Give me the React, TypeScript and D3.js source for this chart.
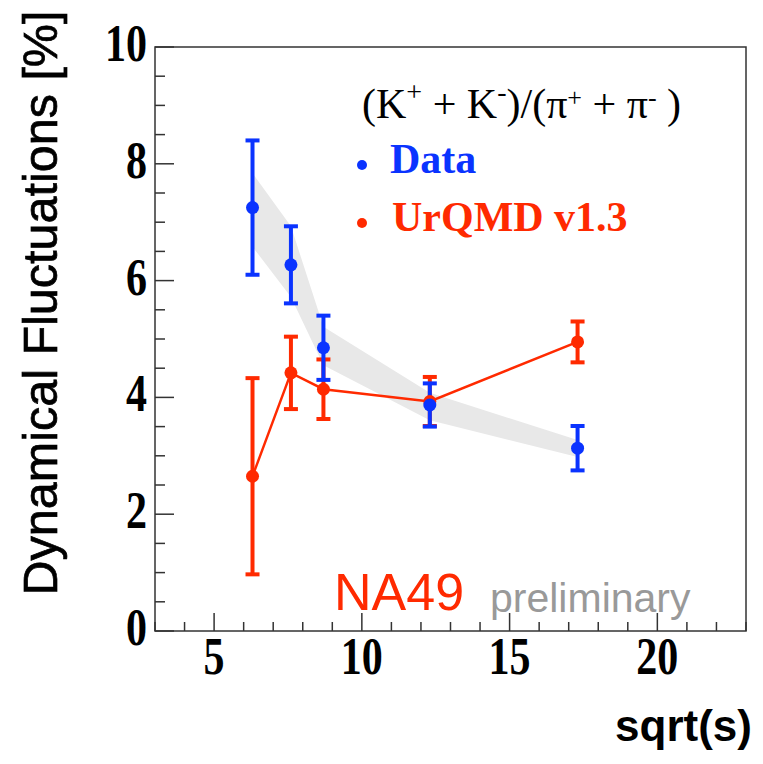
import { scaleLinear, line as d3line, area as d3area, range } from "d3";

// sqrt(s) energies
const energies = [6.3, 7.6, 8.7, 12.3, 17.3];

// NA49 data (blue)
const dataValues = [7.25, 6.27, 4.85, 3.87, 3.13];
const dataErrors = [1.15, 0.66, 0.55, 0.37, 0.38];

// UrQMD v1.3 (red)
const urqmdValues = [2.65, 4.42, 4.14, 3.93, 4.95];
const urqmdErrors = [1.68, 0.62, 0.51, 0.42, 0.35];

// grey systematic band around data
const bandUpper = [7.84, 6.93, 5.21, 4.08, 3.27];
const bandLower = [6.58, 5.72, 4.55, 3.61, 2.98];

const yTickLabels = [0, 2, 4, 6, 8, 10];
const xTickLabels = [5, 10, 15, 20];

const W = 763;
const H = 764;
const left = 155;
const right = 746;
const top = 47;
const bottom = 631;

const BLUE = "#0a33ff";
const RED = "#ff2a00";

export default function App() {
  const x = scaleLinear().domain([3, 23]).range([left, right]);
  const y = scaleLinear().domain([0, 10]).range([bottom, top]);

  const band = d3area<number>()
    .x((_, i) => x(energies[i]))
    .y0((_, i) => y(bandLower[i]))
    .y1((_, i) => y(bandUpper[i]));

  const redLine = d3line<number>()
    .x((_, i) => x(energies[i]))
    .y((v) => y(v));

  const yMinor = range(0, 10.01, 0.5);
  const xMinor = range(3, 23.01, 1);

  const serif = "'Liberation Serif', 'DejaVu Serif', serif";
  const sans = "'Liberation Sans', Arial, sans-serif";

  const errBars = (vals: number[], errs: number[], color: string) =>
    vals.map((v, i) => {
      const cx = x(energies[i]);
      const y1 = y(v + errs[i]);
      const y2 = y(v - errs[i]);
      return (
        <g key={i} stroke={color} strokeWidth={4}>
          <line x1={cx} x2={cx} y1={y1} y2={y2} />
          <line x1={cx - 7} x2={cx + 7} y1={y1} y2={y1} />
          <line x1={cx - 7} x2={cx + 7} y1={y2} y2={y2} />
        </g>
      );
    });

  return (
    <svg
      width={W}
      height={H}
      style={{ position: "absolute", left: 0, top: 0, background: "#fff" }}
    >
      {/* band */}
      <path d={band(bandUpper) ?? undefined} fill="#e8e8e8" />

      {/* minor / major ticks */}
      {yMinor.map((t) => {
        const major = Math.abs(t % 2) < 1e-6;
        return (
          <line
            key={"y" + t}
            x1={left}
            x2={left + (major ? 19 : 10)}
            y1={y(t)}
            y2={y(t)}
            stroke="#333"
            strokeWidth={1.5}
          />
        );
      })}
      {xMinor.map((t) => {
        const major = Math.abs(t % 5) < 1e-6;
        return (
          <line
            key={"x" + t}
            x1={x(t)}
            x2={x(t)}
            y1={bottom}
            y2={bottom - (major ? 18 : 9)}
            stroke="#333"
            strokeWidth={1.5}
          />
        );
      })}

      {/* frame */}
      <rect
        x={left}
        y={top}
        width={right - left}
        height={bottom - top}
        fill="none"
        stroke="#333"
        strokeWidth={1.5}
      />

      {/* tick labels */}
      {yTickLabels.map((t) => (
        <text
          key={"yl" + t}
          transform={`translate(147, ${y(t) + 14}) scale(1, 1.25)`}
          textAnchor="end"
          fontFamily={serif}
          fontWeight="bold"
          fontSize={42}
          fill="#000"
        >
          {t}
        </text>
      ))}
      {xTickLabels.map((t) => (
        <text
          key={"xl" + t}
          transform={`translate(${x(t)}, 674) scale(1, 1.25)`}
          textAnchor="middle"
          fontFamily={serif}
          fontWeight="bold"
          fontSize={42}
          fill="#000"
        >
          {t}
        </text>
      ))}

      {/* axis titles */}
      <text
        transform="translate(57, 303) rotate(-90)"
        textAnchor="middle"
        fontFamily={sans}
        fontSize={48.5}
        fill="#000"
        stroke="#000"
        strokeWidth={0.7}
      >
        Dynamical Fluctuations [%]
      </text>
      <text
        x={752}
        y={741}
        textAnchor="end"
        fontFamily={sans}
        fontWeight="bold"
        fontSize={44}
        fill="#000"
      >
        sqrt(s)
      </text>

      {/* UrQMD line */}
      <path d={redLine(urqmdValues) ?? undefined} fill="none" stroke={RED} strokeWidth={2.5} />

      {/* error bars & points */}
      {errBars(urqmdValues, urqmdErrors, RED)}
      {errBars(dataValues, dataErrors, BLUE)}
      {urqmdValues.map((v, i) => (
        <circle key={"rp" + i} cx={x(energies[i])} cy={y(v)} r={6.5} fill={RED} />
      ))}
      {dataValues.map((v, i) => (
        <circle key={"bp" + i} cx={x(energies[i])} cy={y(v)} r={6.5} fill={BLUE} />
      ))}

      {/* legend */}
      <text x={362} y={118} fontFamily={serif} fontSize={42} fill="#000">
        (K<tspan dy={-17} fontSize={28}>+</tspan>
        <tspan dy={17}> + K</tspan>
        <tspan dy={-17} fontSize={28}>-</tspan>
        <tspan dy={17}>)/(π</tspan>
        <tspan dy={-12} fontSize={26}>+</tspan>
        <tspan dy={12}> + π</tspan>
        <tspan dy={-12} fontSize={26}>-</tspan>
        <tspan dy={12}> )</tspan>
      </text>
      <circle cx={362} cy={165} r={5} fill={BLUE} />
      <text x={390} y={173} fontFamily={serif} fontWeight="bold" fontSize={42} fill={BLUE}>
        Data
      </text>
      <circle cx={362} cy={223} r={5} fill={RED} />
      <text x={392} y={231} fontFamily={serif} fontWeight="bold" fontSize={42} fill={RED}>
        UrQMD v1.3
      </text>

      {/* labels */}
      <text x={334} y={610} fontFamily={sans} fontSize={52} fill={RED}>
        NA49
      </text>
      <text x={490} y={612} fontFamily={sans} fontSize={41} fill="#999">
        preliminary
      </text>
    </svg>
  );
}
